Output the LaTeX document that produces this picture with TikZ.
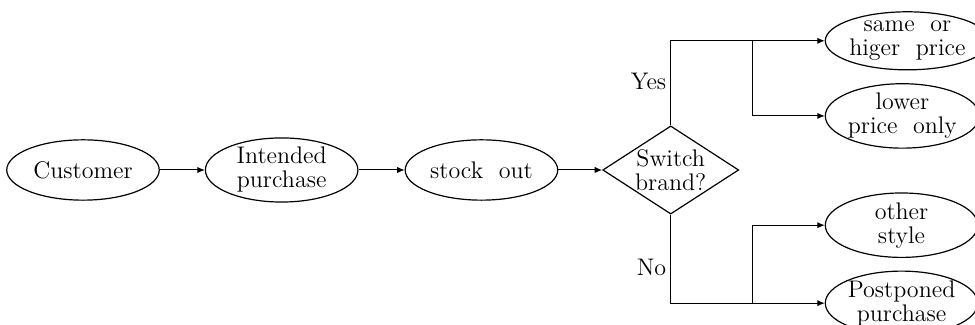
\documentclass[tikz,border=0pt]{standalone}
\usepackage{tikz}
\usetikzlibrary{arrows.meta,positioning,shapes.geometric,calc}
\tikzset{
  >={Latex[length=1.3mm, width=1.1mm]},
  oval/.style={ellipse, draw, line width=0.6pt, align=center, inner sep=0pt, minimum width=2.68cm, minimum height=1.06cm, font=\fontsize{12}{12}\selectfont},
  outcome/.style={oval, minimum height=1.02cm},
  decision/.style={diamond, draw, line width=0.6pt, aspect=1.55, align=center, inner sep=0pt, minimum width=2.39cm, minimum height=1.55cm, font=\fontsize{12}{12}\selectfont},
  lbl/.style={font=\fontsize{12}{12}\selectfont, inner sep=2pt},
  conn/.style={->, line width=0.5pt},
}
\begin{document}
\begin{tikzpicture}[node distance=8mm and 8mm]
  \useasboundingbox (-41.5pt,85pt) rectangle (446pt,-77.5pt);
  \node[oval] (cust) at (0,0) {Customer};
  \node[oval, right=7.9mm of cust] (intent) {Intended\\purchase};
  \node[oval, right=8.1mm of intent] (stock) {stock\ \ out};
  \node[decision, right=7.7mm of stock] (switch) {Switch\\brand?};

  \node[outcome, right=15mm of switch, yshift=22.7mm] (same) {same\ \ or\\higer\ \ price};
  \node[outcome, right=15mm of switch, yshift=9.5mm] (low) {lower\\price\ \ only};
  \node[outcome, right=15mm of switch, yshift=-9.7mm] (other) {other\\style};
  \node[outcome, right=15mm of switch, yshift=-23.4mm] (post) {Postponed\\purchase};

  \coordinate (ybr) at ($(switch.east |- same.west)+(2.4mm,0)$);
  \coordinate (nbr) at ($(switch.east |- post.west)+(2.4mm,0)$);

  \draw[conn] (cust) -- (intent);
  \draw[conn] (intent) -- (stock);
  \draw[conn] (stock) -- (switch);
  \draw[conn] (switch.north) |- node[lbl, pos=0.26, left] (yes) {Yes} (same.west);
  \draw[conn] (ybr) |- (low.west);
  \draw[conn] (switch.south) |- node[lbl, pos=0.3, left] (no) {No} (post.west);
  \draw[conn] (nbr) |- (other.west);
\end{tikzpicture}
\end{document}
